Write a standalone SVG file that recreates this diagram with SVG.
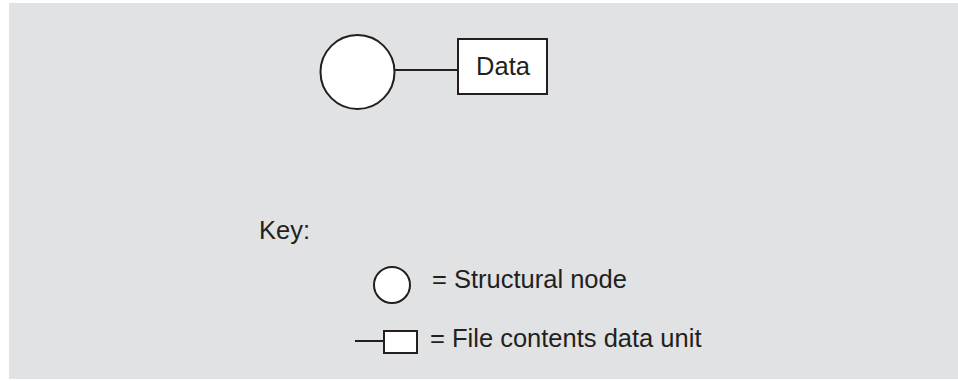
<svg xmlns="http://www.w3.org/2000/svg" width="958" height="381" viewBox="0 0 958 381">
<style>
.shape{fill:#ffffff;stroke:#231f20;stroke-width:2}
.conn{stroke:#231f20;stroke-width:2;fill:none}
.t{font-family:"Liberation Sans",Arial,sans-serif;font-size:25.5px;fill:#231f20}
</style>
<rect x="9" y="3" width="949" height="376" fill="#e1e2e4"/>
<g id="connectors">
<line class="conn" x1="395" y1="70" x2="457" y2="70"/>
</g>
<g id="node-structural">
<circle class="shape" cx="357.5" cy="72" r="37"/>
</g>
<g id="node-data">
<rect class="shape" x="458" y="39" width="89" height="55"/>
<text class="t" x="503" y="75" text-anchor="middle">Data</text>
</g>
<g id="key">
<text class="t" x="259" y="239">Key:</text>
<circle class="shape" cx="392" cy="285" r="18"/>
<text class="t" x="432" y="288">= Structural node</text>
<line class="conn" x1="355" y1="341" x2="384" y2="341"/>
<rect class="shape" x="384" y="331" width="33" height="22"/>
<text class="t" x="430" y="347">= File contents data unit</text>
</g>
</svg>
